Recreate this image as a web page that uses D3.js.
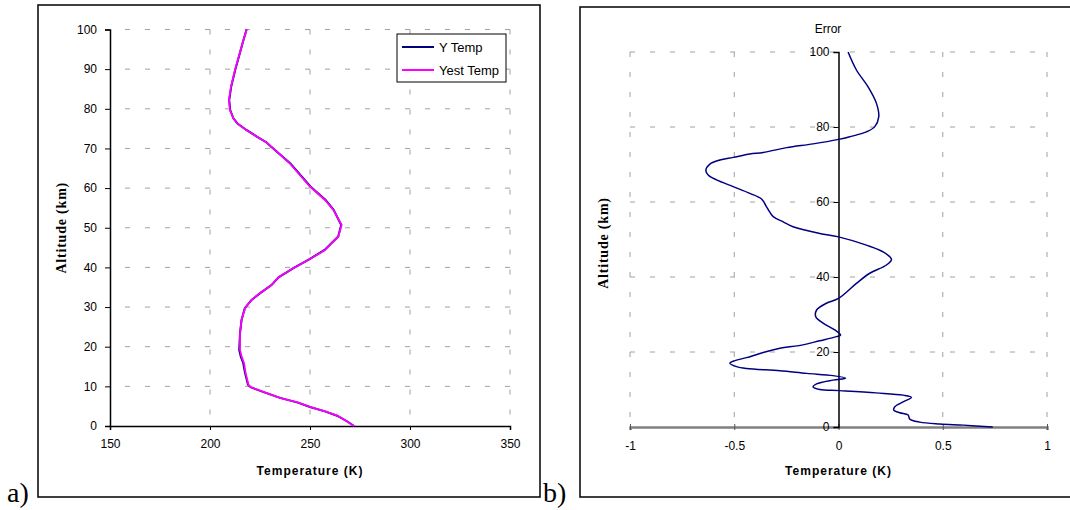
<!DOCTYPE html>
<html>
<head>
<meta charset="utf-8">
<script src="https://cdn.jsdelivr.net/npm/d3@7"></script>
<style>
body { margin: 0; background: #fff; }
svg { display: block; }
.tick text { font-family: "Liberation Sans", Arial, sans-serif; font-size: 12px; fill: #000; }
</style>
</head>
<body>
<div id="chart"></div>
<script>
// panel a) temperature profiles
var altA = [0, 1.2, 2.6, 3.7, 4.8, 5.9, 7.1, 8.6, 9.8, 10.4, 13.4, 15.9, 17.5, 19.2, 23.4, 26.8, 29.7, 31.8, 33.5, 35.6, 37.5, 39.8, 42.1, 44.4, 47.8, 50.7, 54.5, 57, 60.4, 66.2, 70.4, 71.5, 73, 74.6, 76.3, 77.6, 79.7, 82.2, 85.6, 89.8, 97.3, 100];
var yestTemp = [272, 268.3, 263.7, 257.5, 250, 244.2, 235, 226.7, 220.3, 219.2, 217.8, 217, 215.8, 215, 215, 215.8, 217.5, 220.8, 225, 230.8, 234.2, 241.7, 250, 257.5, 264.2, 265.8, 261.7, 257.5, 250, 240, 230.8, 228.3, 223.3, 218.3, 213.7, 211.7, 210, 209.5, 210.5, 212.5, 216.7, 218.3];
var yTemp = [272, 268.5, 263.5, 257.5, 250, 244, 235, 226.5, 220.3, 219, 217.5, 216.6, 215.4, 214.6, 215, 215.8, 217.4, 220.8, 225.1, 230.9, 234.3, 241.7, 249.8, 257.3, 264.1, 265.6, 261.8, 257.8, 250.2, 240.2, 230.6, 228.3, 223.4, 218.4, 213.7, 211.7, 210.1, 209.6, 210.6, 212.6, 216.7, 218.3];
var tempTicks = [150, 200, 250, 300, 350];
var altTicksA = [0, 10, 20, 30, 40, 50, 60, 70, 80, 90, 100];

// panel b) error
var altB = [0, 0.5, 0.8, 1.3, 2.1, 3.2, 3.8, 4.5, 5.4, 6.7, 7.9, 8.5, 9.1, 9.7, 10, 10.7, 11.5, 12.5, 13, 13.7, 14.3, 15, 15.6, 16.1, 17, 17.7, 18.5, 19.6, 21, 21.7, 23, 24.1, 24.5, 25.9, 27.7, 29.4, 31.2, 33, 34.3, 38.3, 41, 43.2, 44.7, 46.7, 48.5, 50.7, 51.6, 53.4, 54.7, 56.1, 58.7, 60.8, 62.3, 64.1, 65.9, 67.2, 68.5, 70.1, 71.2, 71.9, 72.8, 73.2, 74.5, 75.5, 76.7, 77.4, 78.7, 80.1, 82.7, 86.3, 90.7, 95.2, 100];
var errB = [0.74, 0.6, 0.486, 0.39, 0.342, 0.334, 0.294, 0.265, 0.27, 0.31, 0.35, 0.31, 0.18, 0.006, -0.09, -0.122, -0.105, -0.026, 0.034, -0.026, -0.153, -0.281, -0.441, -0.489, -0.521, -0.497, -0.441, -0.377, -0.281, -0.19, -0.09, -0.01, 0.01, -0.018, -0.074, -0.109, -0.105, -0.058, 0, 0.086, 0.15, 0.23, 0.254, 0.214, 0.134, 0, -0.09, -0.218, -0.265, -0.313, -0.345, -0.369, -0.425, -0.505, -0.585, -0.625, -0.636, -0.617, -0.569, -0.505, -0.425, -0.361, -0.249, -0.122, 0, 0.054, 0.134, 0.174, 0.193, 0.182, 0.142, 0.086, 0.046];
var errTicks = [-1, -0.5, 0, 0.5, 1];
var altTicksB = [0, 20, 40, 60, 80, 100];

var W = 1070, H = 510;
var svg = d3.select("#chart").append("svg").attr("width", W).attr("height", H);

var sans = "'Liberation Sans', Arial, sans-serif";
var serif = "'Liberation Serif', 'Times New Roman', serif";
var gridColor = "#a0a0a0";

// outer boxes
svg.append("rect").attr("x", 38).attr("y", 5).attr("width", 502).attr("height", 492)
    .attr("fill", "none").attr("stroke", "#000").attr("stroke-width", 1.5);
svg.append("rect").attr("x", 580).attr("y", 7).attr("width", 520).attr("height", 490)
    .attr("fill", "none").attr("stroke", "#000").attr("stroke-width", 1.5);

svg.append("text").attr("x", 7).attr("y", 502).attr("font-family", serif).attr("font-size", 28).text("a)");
svg.append("text").attr("x", 543).attr("y", 502).attr("font-family", serif).attr("font-size", 28).text("b)");

// ---------- panel a ----------
var xA = d3.scaleLinear().domain([150, 350]).range([110, 510]);
var yA = d3.scaleLinear().domain([0, 100]).range([426, 29.5]);

var gA = svg.append("g");
// grid
gA.selectAll(".hg").data(altTicksA.slice(1)).enter().append("line")
    .attr("x1", xA(150)).attr("x2", xA(350)).attr("y1", function (d) { return yA(d); }).attr("y2", function (d) { return yA(d); })
    .attr("stroke", gridColor).attr("stroke-dasharray", "5,15").attr("stroke-dashoffset", -15);
gA.selectAll(".vg").data(tempTicks.slice(1)).enter().append("line")
    .attr("x1", function (d) { return xA(d); }).attr("x2", function (d) { return xA(d); }).attr("y1", yA(100)).attr("y2", yA(0))
    .attr("stroke", gridColor).attr("stroke-dasharray", "5,15");

// axes
var axBA = gA.append("g").attr("transform", "translate(0," + yA(0) + ")")
    .call(d3.axisBottom(xA).tickValues(tempTicks).tickSize(4).tickPadding(9).tickFormat(d3.format("d")));
var axLA = gA.append("g").attr("transform", "translate(" + xA(150) + ",0)")
    .call(d3.axisLeft(yA).tickValues(altTicksA).tickSize(5).tickPadding(8).tickFormat(d3.format("d")));
[axBA, axLA].forEach(function (a) {
    a.select(".domain").attr("stroke", "#000").attr("stroke-width", 1.5);
    a.selectAll(".tick line").attr("stroke", "#000");
});

var lineA = function (vals) {
    return d3.line().x(function (d, i) { return xA(vals[i]); }).y(function (d) { return yA(d); })(altA);
};
gA.append("path").attr("d", lineA(yTemp)).attr("fill", "none").attr("stroke", "#000080").attr("stroke-width", 2);
gA.append("path").attr("d", lineA(yestTemp)).attr("fill", "none").attr("stroke", "#ff00ff").attr("stroke-width", 1.8);

// legend
var leg = gA.append("g");
leg.append("rect").attr("x", 397).attr("y", 34).attr("width", 109).attr("height", 48)
    .attr("fill", "#fff").attr("stroke", "#000").attr("stroke-width", 1);
var legItems = [["Y Temp", "#000080"], ["Yest Temp", "#ff00ff"]];
legItems.forEach(function (it, i) {
    var ly = 47 + i * 23;
    leg.append("line").attr("x1", 402).attr("x2", 434).attr("y1", ly).attr("y2", ly).attr("stroke", it[1]).attr("stroke-width", 2);
    leg.append("text").attr("x", 439).attr("y", ly + 4.5).attr("font-family", sans).attr("font-size", 13).text(it[0]);
});

gA.append("text").attr("x", (xA(150) + xA(350)) / 2).attr("y", 475).attr("text-anchor", "middle")
    .attr("font-family", sans).attr("font-size", 12).attr("font-weight", "bold").attr("letter-spacing", 1).text("Temperature (K)");
gA.append("text").attr("transform", "translate(66," + yA(50) + ") rotate(-90)").attr("text-anchor", "middle")
    .attr("font-family", serif).attr("font-size", 14).attr("font-weight", "bold").attr("letter-spacing", 0.8).text("Altitude (km)");

// ---------- panel b ----------
var xB = d3.scaleLinear().domain([-1, 1]).range([630, 1047]);
var yB = d3.scaleLinear().domain([0, 100]).range([427, 52]);
var gB = svg.append("g");

gB.selectAll(".hg").data(altTicksB.slice(1)).enter().append("line")
    .attr("x1", xB(-1)).attr("x2", xB(1)).attr("y1", function (d) { return yB(d); }).attr("y2", function (d) { return yB(d); })
    .attr("stroke", gridColor).attr("stroke-dasharray", "5,15");
gB.selectAll(".vg").data([-1, -0.5, 0.5, 1]).enter().append("line")
    .attr("x1", function (d) { return xB(d); }).attr("x2", function (d) { return xB(d); }).attr("y1", yB(100)).attr("y2", yB(0))
    .attr("stroke", gridColor).attr("stroke-dasharray", "5,15");

var axBB = gB.append("g").attr("transform", "translate(0," + yB(0) + ")")
    .call(d3.axisBottom(xB).tickValues(errTicks).tickSize(3).tickPadding(11).tickFormat(function (d) { return String(d); }));
axBB.select(".domain").attr("stroke", "#808080").attr("stroke-width", 2.5);
axBB.selectAll(".tick line").attr("stroke", "#555").attr("y1", -3);

var axLB = gB.append("g").attr("transform", "translate(" + xB(0) + ",0)")
    .call(d3.axisLeft(yB).tickValues(altTicksB).tickSize(5).tickPadding(4).tickFormat(d3.format("d")));
axLB.select(".domain").attr("stroke", "#000").attr("stroke-width", 1.5);
axLB.selectAll(".tick line").attr("stroke", "#000");
axLB.selectAll(".tick text").attr("font-size", 13);

var lineB = d3.line().x(function (d, i) { return xB(errB[i]); }).y(function (d) { return yB(d); }).curve(d3.curveCatmullRom);
gB.append("path").attr("d", lineB(altB)).attr("fill", "none").attr("stroke", "#000080").attr("stroke-width", 1.5);

gB.append("text").attr("x", 828).attr("y", 33).attr("text-anchor", "middle")
    .attr("font-family", sans).attr("font-size", 12).text("Error");
gB.append("text").attr("x", xB(0)).attr("y", 475).attr("text-anchor", "middle")
    .attr("font-family", sans).attr("font-size", 12).attr("font-weight", "bold").attr("letter-spacing", 1).text("Temperature (K)");
gB.append("text").attr("transform", "translate(608,243) rotate(-90)").attr("text-anchor", "middle")
    .attr("font-family", serif).attr("font-size", 14).attr("font-weight", "bold").attr("letter-spacing", 0.8).text("Altitude (km)");
</script>
</body>
</html>
